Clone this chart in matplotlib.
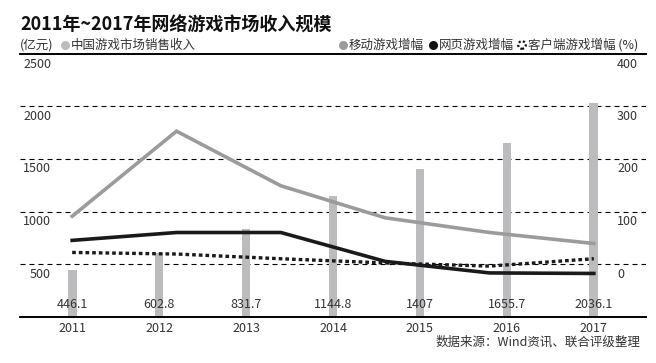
import numpy as np
import matplotlib
matplotlib.use('Agg')
import matplotlib.pyplot as plt
from matplotlib.transforms import ScaledTranslation, blended_transform_factory

plt.rcParams['font.family'] = ['Noto Sans CJK SC', 'DejaVu Sans']

# data
years = ['2011', '2012', '2013', '2014', '2015', '2016', '2017']
revenue = [446.1, 602.8, 831.7, 1144.8, 1407, 1655.7, 2036.1]
revenue_labels = ['446.1', '602.8', '831.7', '1144.8', '1407', '1655.7', '2036.1']
mobile_growth = [91, 253, 149, 88, 60, 39]
web_growth = [45, 60, 60, 5, -17, -18]
client_growth = [22, 19, 10, 2, -4, 10]
left_ticks = [500, 1000, 1500, 2000, 2500]
right_ticks = [0, 100, 200, 300, 400]

bar_color = '#bcbcbe'
mobile_color = '#9b9b9b'
txt_color = '#333333'

fig = plt.figure(figsize=(6.56, 3.63), dpi=100)
ax = fig.add_axes([20 / 656, (363 - 316.5) / 363, 626 / 656, 262.5 / 363])
ax2 = ax.twinx()

x = np.arange(len(years))
ax.bar(x, revenue, width=0.1, color=bar_color, zorder=2)
ax.set_xlim(-0.6, 6.6)
ax.set_ylim(0, 2500)
ax2.set_ylim(-100, 400)

# dashed grid
for v in left_ticks[:-1]:
    ax.axhline(v, color='black', lw=0.8, ls=(0, (4.5, 3.6)), zorder=1)

for a in (ax, ax2):
    a.spines['left'].set_visible(False)
    a.spines['right'].set_visible(False)
    a.spines['top'].set_linewidth(1.2)
    a.spines['bottom'].set_linewidth(1.2)
    a.set_yticks([])

ax.set_xticks(x)
ax.set_xticklabels(years, fontsize=9, color=txt_color)
ax.tick_params(axis='x', length=0, pad=4)

# growth lines (6 points across full span)
xl = np.linspace(0, 6, len(mobile_growth))
ax2.plot(xl, mobile_growth, color=mobile_color, lw=2.6, solid_joinstyle='miter', zorder=5)
ax2.plot(xl, web_growth, color='#1a1a1a', lw=2.6, solid_joinstyle='miter', zorder=5)
ax2.plot(xl, client_growth, color='#1a1a1a', lw=2.4, ls=(0, (1.1, 0.9)),
         dash_capstyle='butt', zorder=5)

# value labels
tb = blended_transform_factory(ax.transData, ax.transAxes)
for xi, s in zip(x, revenue_labels):
    ax2.text(xi, 11.5 / 262.5, s, transform=tb, ha='center', va='center',
             fontsize=9, color=txt_color, zorder=6)

# axis labels below gridlines
off = ScaledTranslation(0, -10 / 100, fig.dpi_scale_trans)
tl = blended_transform_factory(ax.transAxes, ax.transData) + off
for v in left_ticks:
    ax.text(31 / 626, v, str(v), transform=tl, ha='right', va='center',
            fontsize=9, color=txt_color)
tr = blended_transform_factory(ax2.transAxes, ax2.transData) + off
for v in right_ticks:
    ax2.text(597 / 626, v, str(v), transform=tr, ha='left', va='center',
             fontsize=9, color=txt_color)

# header / legend in pixel coords
ov = fig.add_axes([0, 0, 1, 1], zorder=10)
ov.set_xlim(0, 656)
ov.set_ylim(363, 0)
ov.axis('off')
ov.patch.set_visible(False)

ov.text(20, 25, '2011年~2017年网络游戏市场收入规模', fontsize=13, fontweight='bold',
        ha='left', va='center', color='#111111')
ov.text(20, 45, '(亿元)', fontsize=9, ha='left', va='center', color=txt_color)
ov.scatter([65], [45], s=30, color=bar_color)
ov.text(71, 45, '中国游戏市场销售收入', fontsize=9, ha='left', va='center', color=txt_color)

ov.scatter([343], [45], s=30, color=mobile_color)
ov.text(349, 45, '移动游戏增幅', fontsize=9, ha='left', va='center', color=txt_color)
ov.scatter([433], [45], s=30, color='#111111')
ov.text(439, 45, '网页游戏增幅', fontsize=9, ha='left', va='center', color=txt_color)
ov.scatter([522], [45], s=30, facecolors='white', edgecolors='#111111',
           linewidths=1.6, linestyles=(0, (1, 1)))
ov.text(528, 45, '客户端游戏增幅 (%)', fontsize=9, ha='left', va='center', color=txt_color)

ov.text(640, 342, '数据来源：Wind资讯、联合评级整理', fontsize=9, ha='right', va='center',
        color=txt_color)

fig.savefig('out.png', dpi=100)
